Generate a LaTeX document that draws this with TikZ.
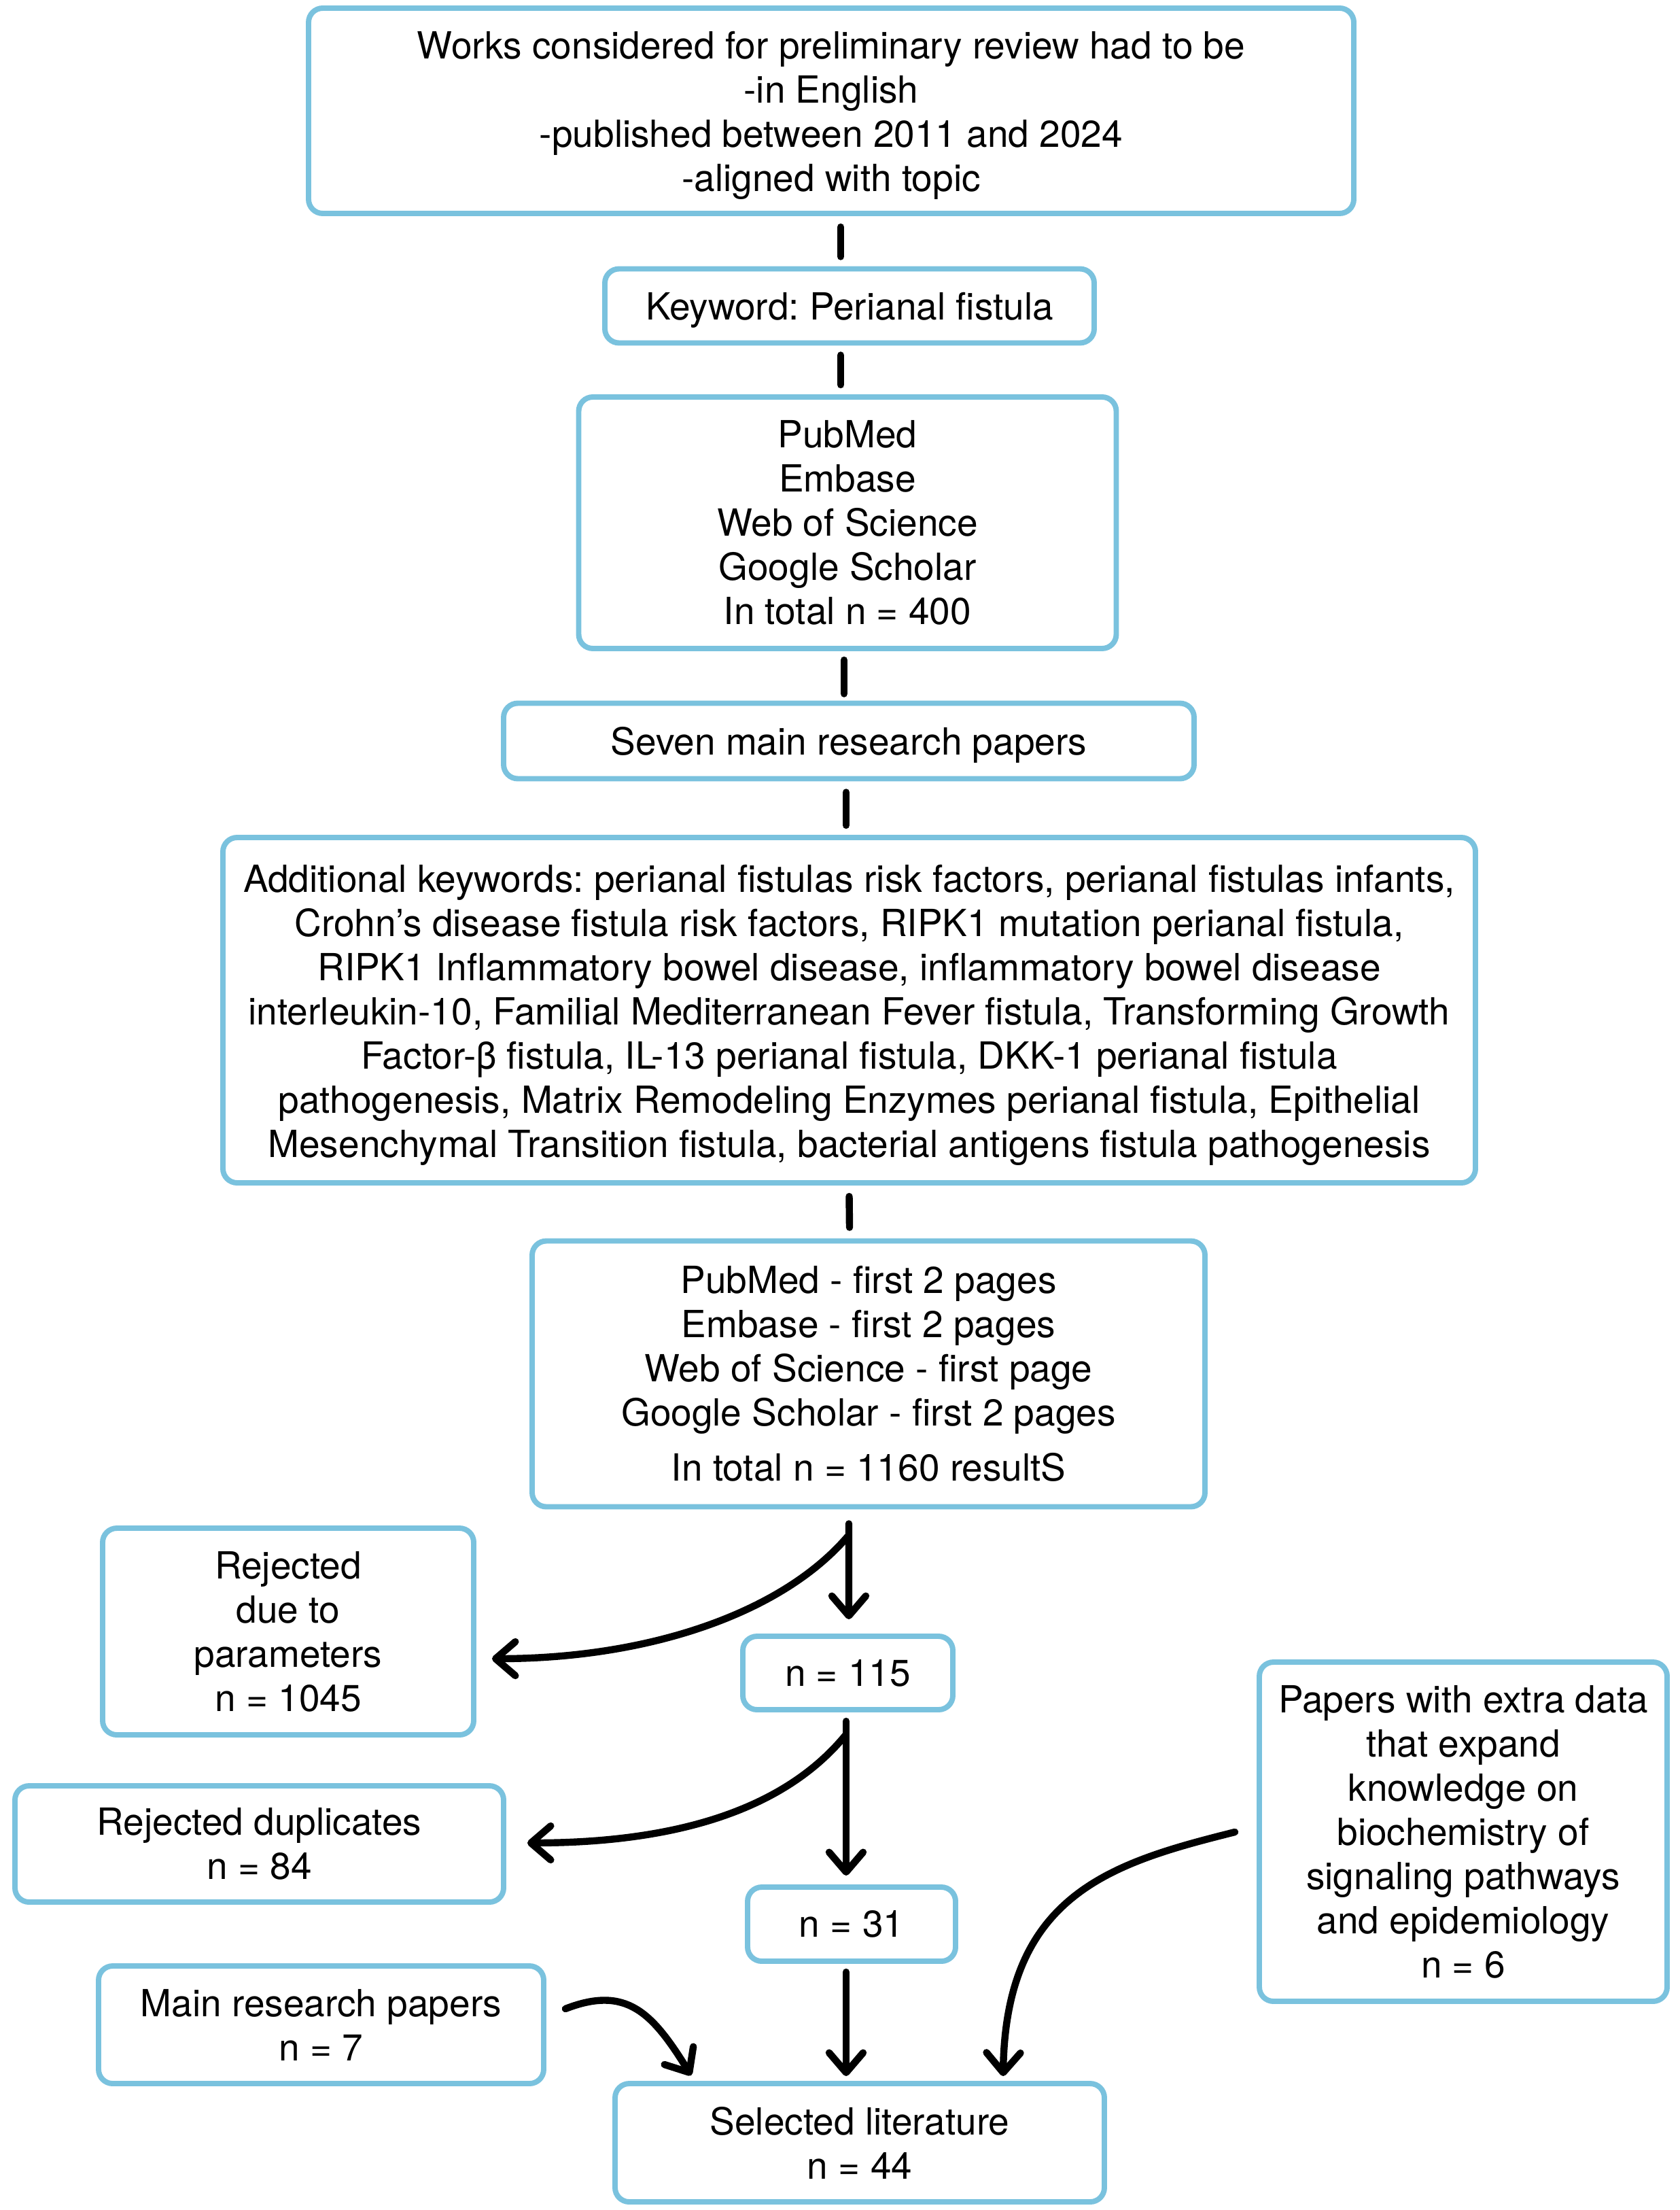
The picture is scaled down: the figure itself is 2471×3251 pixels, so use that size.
\documentclass[tikz,border=0pt]{standalone}
\usepackage{fontspec}
\setmainfont{TeX Gyre Heros}
\usetikzlibrary{arrows.meta}
\definecolor{boxblue}{RGB}{122,194,222}
\frenchspacing
\begin{document}
\begin{tikzpicture}[x=0.24pt,y=-0.24pt,
  box/.style={draw=boxblue,line width=1.9pt,rounded corners=5pt,fill=white,align=center,inner sep=0pt,font=\fontsize{13.2}{15.6}\selectfont\frenchspacing},
  sz/.style 2 args={minimum width=#1*0.24pt,minimum height=#2*0.24pt},
  link/.style={line width=2.5pt,line cap=round},
  arr/.style={line width=2.5pt,line cap=round,-{Straight Barb[length=7pt,width=12pt,round]}}]
\useasboundingbox (0,0) rectangle (2471,3251);
\fill[white] (0,0) rectangle (2471,3251);

\node[box,sz={1538}{302},text height=59.9pt] (top) at (1223,163) {Works considered for preliminary review had to be\\-in English\\-published between 2011 and 2024\\-aligned with topic};
\node[box,sz={720}{109},text height=12.6pt] (kw) at (1250,450) {Keyword: Perianal fistula};
\node[box,sz={791}{370}] (db) at (1247,769) {PubMed\\Embase\\Web of Science\\Google Scholar\\In total n = 400};
\node[box,sz={1016}{111},text height=12.6pt] (seven) at (1249,1090) {Seven main research papers};
\node[box,sz={1843}{508},text height=106.7pt] (add) at (1249.5,1486) {Additional keywords: perianal fistulas risk factors, perianal fistulas infants,\\Crohn’s disease fistula risk factors, RIPK1 mutation perianal fistula,\\RIPK1 Inflammatory bowel disease, inflammatory bowel disease\\interleukin-10, Familial Mediterranean Fever fistula, Transforming Growth\\Factor-β fistula, IL-13 perianal fistula, DKK-1 perianal fistula\\pathogenesis, Matrix Remodeling Enzymes perianal fistula, Epithelial\\Mesenchymal Transition fistula, bacterial antigens fistula pathogenesis};
\node[box,sz={990}{391}] (db2) at (1278,2021) {PubMed - first 2 pages\\Embase - first 2 pages\\Web of Science - first page\\Google Scholar - first 2 pages\\[3.8pt]In total n = 1160 resultS};
\node[box,sz={546}{304}] (rej) at (424,2400) {Rejected\\due to\\parameters\\n = 1045};
\node[box,sz={309}{108}] (n115) at (1247.5,2461) {n = 115};
\node[box,sz={719}{171}] (dup) at (381.5,2712.5) {Rejected duplicates\\n = 84};
\node[box,sz={306}{109}] (n31) at (1253,2830.5) {n = 31};
\node[box,sz={655}{173}] (main) at (472.5,2978.5) {Main research papers\\n = 7};
\node[box,sz={600}{499}] (papers) at (2153,2694.5) {Papers with extra data\\that expand\\knowledge on\\biochemistry of\\signaling pathways\\and epidemiology\\n = 6};
\node[box,sz={720}{174}] (sel) at (1265,3152) {Selected literature\\n = 44};

\draw[link] ([shift={(14,16)}]top.south) -- ([shift={(-13,-14)}]kw.north);
\draw[link] ([shift={(-13,14)}]kw.south) -- ([shift={(-10,-14)}]db.north);
\draw[link] ([shift={(-5,13)}]db.south) -- ([shift={(-7,-10)}]seven.north);
\draw[link] ([shift={(-4,16)}]seven.south) -- ([shift={(-4.5,-14)}]add.north);
\draw[link] ([shift={(0,16)}]add.south) -- ([shift={(-28,-16)}]db2.north);

\draw[arr] ([shift={(-29,21)}]db2.south) -- ([shift={(1.5,-21)}]n115.north);
\draw[arr] ([shift={(-31,40)}]db2.south) .. controls +(-97,113) and +(230,0) .. ([shift={(23,40)}]rej.east);
\draw[arr] ([shift={(-2.5,13)}]n115.south) -- ([shift={(-8,-13)}]n31.north);
\draw[arr] ([shift={(-3,33)}]n115.south) .. controls +(-90,110) and +(220,0) .. ([shift={(31,-1.5)}]dup.east);
\draw[arr] ([shift={(-8,12)}]n31.south) -- ([shift={(-20,-7)}]sel.north);
\draw[arr] ([shift={(28,-23.5)}]main.east) .. controls +(90,-35) and +(-57,-92) .. ([shift={(-248,-8)}]sel.north);
\draw[arr] ([shift={(-32,0.5)}]papers.west) .. controls +(-180,45) and +(4,-268) .. ([shift={(211,-7)}]sel.north);
\end{tikzpicture}
\end{document}
